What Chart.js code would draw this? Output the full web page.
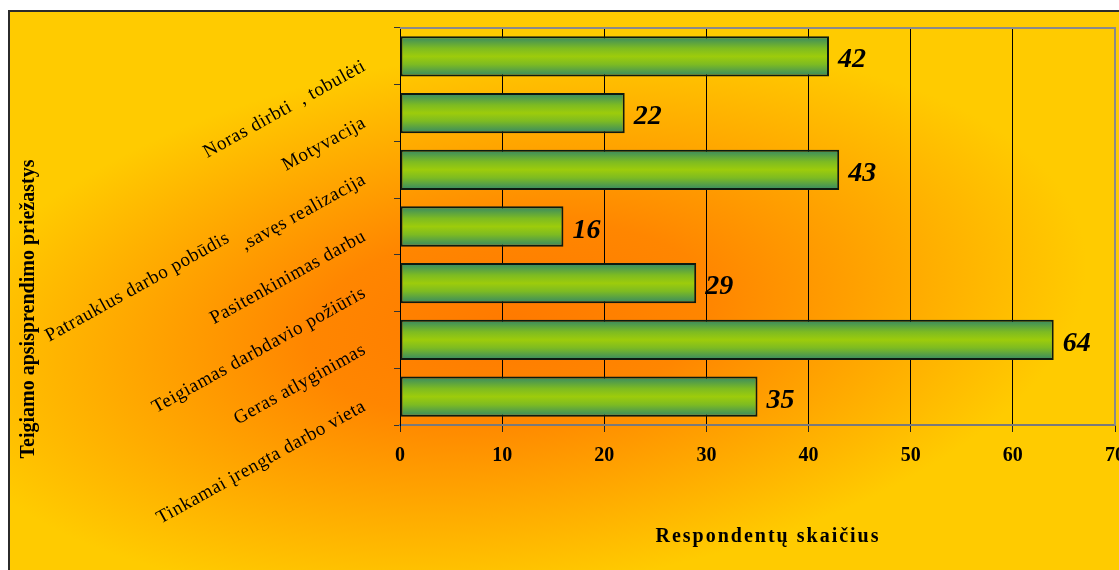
<!DOCTYPE html>
<html>
<head>
<meta charset="utf-8">
<script src="https://cdn.jsdelivr.net/npm/chart.js@4.4.0/dist/chart.umd.min.js"></script>
<style>
  html, body { margin: 0; padding: 0; background: #fff; }
  #wrap { width: 1119px; height: 570px; }
</style>
</head>
<body>
<div id="wrap"><canvas id="chart"></canvas></div>
<script>
// categories, top to bottom
const categories = [
  'Noras dirbti  , tobulėti',
  'Motyvacija',
  ['Patrauklus darbo pobūdis', ',savęs realizacija'],
  'Pasitenkinimas darbu',
  'Teigiamas darbdavio požiūris',
  'Geras atlyginimas',
  'Tinkamai įrengta darbo vieta'
];
const respondents = [42, 22, 43, 16, 29, 64, 35];
const xTicks = [0, 10, 20, 30, 40, 50, 60, 70];

const yTitle = 'Teigiamo apsisprendimo priežastys';
const xTitle = 'Respondentų skaičius';

const serif = '"Liberation Serif", "Times New Roman", serif';
const barPct = 0.71;
let barFills = [];

function makeBarFill(ctx, cy, h) {
  const g = ctx.createLinearGradient(0, cy - h / 2, 0, cy + h / 2);
  g.addColorStop(0, '#348766');
  g.addColorStop(0.3, '#7dbb22');
  g.addColorStop(0.5, '#9dcc0b');
  g.addColorStop(0.7, '#7dbb22');
  g.addColorStop(1, '#348766');
  return g;
}

const decor = {
  id: 'decor',
  afterLayout(chart) {
    const y = chart.scales.y;
    const h = (y.height / categories.length) * barPct;
    barFills = categories.map((_, i) => makeBarFill(chart.ctx, y.getPixelForValue(i), h));
  },
  beforeDraw(chart) {
    const ctx = chart.ctx;
    ctx.save();
    ctx.fillStyle = '#fff';
    ctx.fillRect(0, 0, chart.width, chart.height);
    // elliptical orange -> yellow background
    ctx.save();
    ctx.beginPath();
    ctx.rect(8, 10, chart.width - 8, chart.height - 10);
    ctx.clip();
    ctx.translate(510, 320);
    ctx.rotate(-0.12);
    ctx.scale(580, 270);
    const g = ctx.createRadialGradient(0, 0, 0, 0, 0, 1);
    g.addColorStop(0, '#ff7a00');
    g.addColorStop(0.35, '#ff8600');
    g.addColorStop(0.7, '#ffab00');
    g.addColorStop(1, '#ffcb00');
    ctx.fillStyle = g;
    ctx.fillRect(-3, -3, 6, 6);
    ctx.restore();
    // outer frame
    ctx.strokeStyle = '#2b2b2b';
    ctx.lineWidth = 2;
    ctx.beginPath();
    ctx.moveTo(9, chart.height);
    ctx.lineTo(9, 11);
    ctx.lineTo(chart.width, 11);
    ctx.stroke();
    ctx.restore();
  },
  beforeDatasetsDraw(chart) {
    const { ctx, chartArea: a } = chart;
    ctx.save();
    ctx.strokeStyle = '#8a8a8a';
    ctx.lineWidth = 2;
    ctx.beginPath();
    ctx.moveTo(a.left, a.top);
    ctx.lineTo(a.right, a.top);
    ctx.lineTo(a.right, a.bottom);
    ctx.stroke();
    ctx.restore();
  },
  afterDatasetsDraw(chart) {
    const ctx = chart.ctx;
    const meta = chart.getDatasetMeta(0);
    ctx.save();
    ctx.fillStyle = '#000';
    ctx.font = 'italic bold 28px ' + serif;
    ctx.textAlign = 'left';
    ctx.textBaseline = 'alphabetic';
    meta.data.forEach((bar, i) => {
      ctx.fillText(String(respondents[i]), bar.x + 9, bar.y + 11);
    });
    ctx.restore();
  },
  afterDraw(chart) {
    const ctx = chart.ctx;
    const y = chart.scales.y;
    const ang = -29 * Math.PI / 180;
    ctx.save();
    ctx.fillStyle = '#000';
    ctx.font = '19px ' + serif;
    ctx.letterSpacing = '0.6px';
    ctx.textBaseline = 'alphabetic';
    categories.forEach((lab, i) => {
      const c = y.getPixelForValue(i);
      const lines = Array.isArray(lab) ? lab : [lab];
      ctx.save();
      ctx.translate(367, c + 13);
      ctx.rotate(ang);
      ctx.textAlign = 'right';
      let end = 0, shift = 0;
      for (let k = lines.length - 1; k >= 0; k--) {
        ctx.fillText(lines[k], end, shift);
        end -= ctx.measureText(lines[k]).width + 8;
        shift -= 15;
      }
      ctx.restore();
    });
    // axis titles
    ctx.font = 'bold 20px ' + serif;
    ctx.letterSpacing = '0px';
    ctx.textAlign = 'center';
    ctx.save();
    ctx.translate(34, 309);
    ctx.rotate(-Math.PI / 2);
    ctx.fillText(yTitle, 0, 0);
    ctx.restore();
    ctx.font = 'bold 20px ' + serif;
    ctx.letterSpacing = '2px';
    ctx.fillText(xTitle, 768, 542);
    ctx.restore();
  }
};

new Chart(document.getElementById('chart'), {
  type: 'bar',
  data: {
    labels: categories,
    datasets: [{
      data: respondents,
      backgroundColor: (c) => barFills[c.dataIndex] || '#8fc414',
      borderColor: '#0d1a10',
      borderWidth: 2,
      borderSkipped: false,
      barPercentage: barPct,
      categoryPercentage: 1
    }]
  },
  options: {
    indexAxis: 'y',
    responsive: true,
    maintainAspectRatio: false,
    animation: false,
    layout: { padding: { top: 28, right: 4, left: 0, bottom: 0 } },
    plugins: {
      legend: { display: false },
      tooltip: { enabled: false }
    },
    scales: {
      x: {
        min: xTicks[0],
        max: xTicks[xTicks.length - 1],
        afterBuildTicks(scale) {
          scale.ticks = xTicks.map(v => ({ value: v }));
        },
        afterFit(scale) {
          scale.height = 145;
          scale.paddingLeft = 0;
          scale.paddingRight = 0;
        },
        grid: { color: '#000', lineWidth: 1, tickLength: 7, tickColor: '#222' },
        border: { color: '#7a7a7a', width: 2 },
        ticks: {
          color: '#000',
          padding: 12,
          font: { family: serif, size: 20, weight: 'bold' }
        }
      },
      y: {
        afterFit(scale) {
          scale.width = 400;
        },
        grid: { offset: true, drawOnChartArea: false, tickLength: 6, tickColor: '#333' },
        border: { color: '#000', width: 1 },
        ticks: { display: false }
      }
    }
  },
  plugins: [decor]
});
</script>
</body>
</html>
